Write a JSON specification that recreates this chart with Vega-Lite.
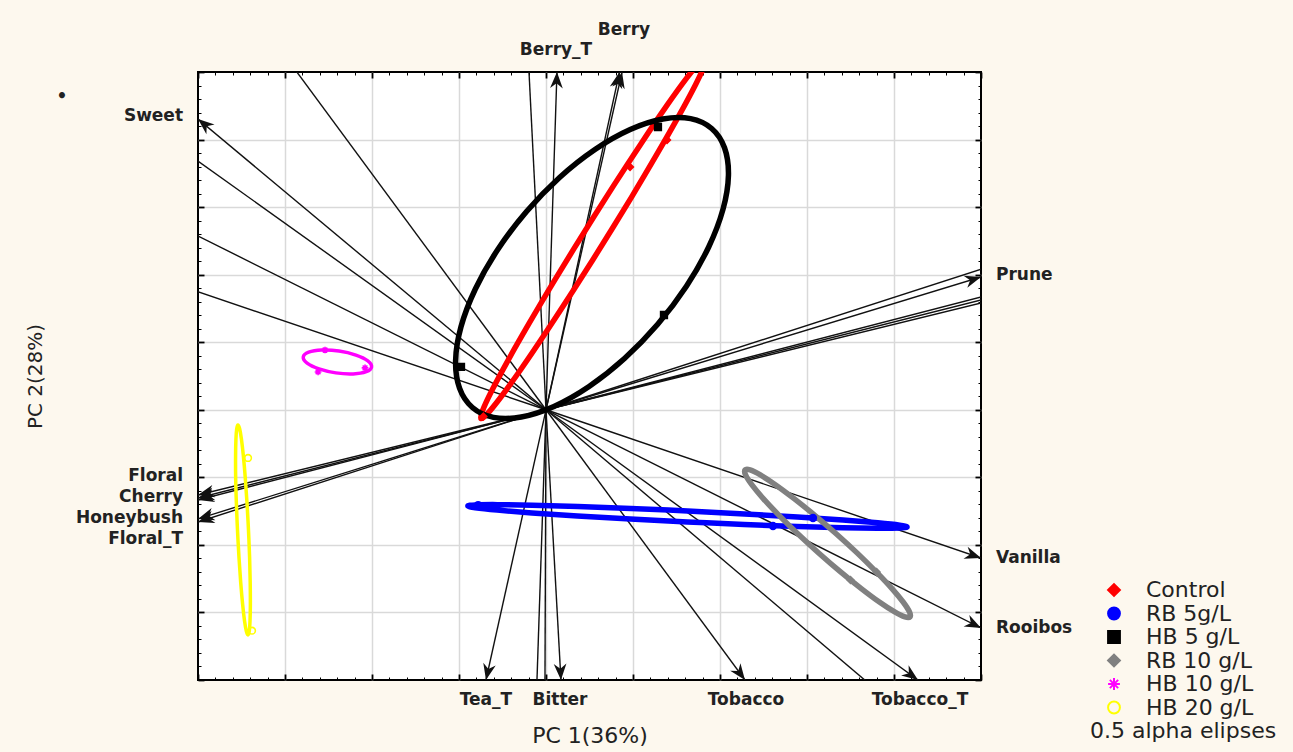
{
  "$schema": "https://vega.github.io/schema/vega-lite/v6.json",
  "width": 783,
  "height": 608,
  "autosize": "none",
  "padding": {"left": 198, "top": 72, "right": 312, "bottom": 72},
  "background": "#fdf8ee",
  "config": {
    "view": {"fill": "white", "stroke": "black", "strokeWidth": 2},
    "font": "DejaVu Sans"
  },
  "datasets": {
    "vectors": [
      {"name": "Sweet", "x": -4.0, "y": 4.304, "arrow": true},
      {"name": "Berry_T", "x": 0.126, "y": 5.0, "arrow": true},
      {"name": "Berry", "x": 0.874, "y": 5.0, "arrow": true},
      {"name": "", "x": 0.845, "y": 5.0, "arrow": true},
      {"name": "Prune", "x": 5.0, "y": 1.966, "arrow": true},
      {"name": "Floral", "x": -4.0, "y": -1.261, "arrow": true},
      {"name": "Cherry", "x": -4.0, "y": -1.306, "arrow": true},
      {"name": "", "x": -4.0, "y": -1.335, "arrow": true},
      {"name": "Honeybush", "x": -4.0, "y": -1.616, "arrow": true},
      {"name": "Floral_T", "x": -4.0, "y": -1.661, "arrow": true},
      {"name": "Tea_T", "x": -0.69, "y": -4.0, "arrow": true},
      {"name": "Bitter", "x": 0.172, "y": -4.0, "arrow": true},
      {"name": "Tobacco", "x": 2.287, "y": -4.0, "arrow": true},
      {"name": "Tobacco_T", "x": 4.276, "y": -4.0, "arrow": true},
      {"name": "Rooibos", "x": 5.0, "y": -3.23, "arrow": true},
      {"name": "Vanilla", "x": 5.0, "y": -2.194, "arrow": true},
      {"name": "", "x": -3.15, "y": 5.5, "arrow": false},
      {"name": "", "x": -4.4, "y": 4.05, "arrow": false},
      {"name": "", "x": -4.4, "y": 2.83, "arrow": false},
      {"name": "", "x": -4.4, "y": 1.92, "arrow": false},
      {"name": "", "x": -0.215, "y": 5.5, "arrow": false},
      {"name": "", "x": 5.5, "y": 2.29, "arrow": false},
      {"name": "", "x": 5.5, "y": 1.836, "arrow": false},
      {"name": "", "x": 5.5, "y": 1.788, "arrow": false},
      {"name": "", "x": 5.5, "y": 1.738, "arrow": false},
      {"name": "", "x": -0.114, "y": -4.4, "arrow": false},
      {"name": "", "x": -0.013, "y": -4.4, "arrow": false},
      {"name": "", "x": 4.03, "y": -4.4, "arrow": false}
    ],
    "ellipses": [
      {"group": "Control", "i": 0, "x": 1.839, "y": 5.216},
      {"group": "Control", "i": 1, "x": 1.823, "y": 5.103},
      {"group": "Control", "i": 2, "x": 1.72, "y": 4.815},
      {"group": "Control", "i": 3, "x": 1.536, "y": 4.372},
      {"group": "Control", "i": 4, "x": 1.285, "y": 3.805},
      {"group": "Control", "i": 5, "x": 0.985, "y": 3.152},
      {"group": "Control", "i": 6, "x": 0.653, "y": 2.457},
      {"group": "Control", "i": 7, "x": 0.315, "y": 1.768},
      {"group": "Control", "i": 8, "x": -0.008, "y": 1.132},
      {"group": "Control", "i": 9, "x": -0.292, "y": 0.592},
      {"group": "Control", "i": 10, "x": -0.52, "y": 0.185},
      {"group": "Control", "i": 11, "x": -0.675, "y": -0.061},
      {"group": "Control", "i": 12, "x": -0.747, "y": -0.13},
      {"group": "Control", "i": 13, "x": -0.731, "y": -0.017},
      {"group": "Control", "i": 14, "x": -0.628, "y": 0.271},
      {"group": "Control", "i": 15, "x": -0.444, "y": 0.714},
      {"group": "Control", "i": 16, "x": -0.193, "y": 1.281},
      {"group": "Control", "i": 17, "x": 0.107, "y": 1.934},
      {"group": "Control", "i": 18, "x": 0.439, "y": 2.629},
      {"group": "Control", "i": 19, "x": 0.777, "y": 3.318},
      {"group": "Control", "i": 20, "x": 1.1, "y": 3.954},
      {"group": "Control", "i": 21, "x": 1.384, "y": 4.494},
      {"group": "Control", "i": 22, "x": 1.612, "y": 4.901},
      {"group": "Control", "i": 23, "x": 1.767, "y": 5.147},
      {"group": "HB 5 g/L", "i": 0, "x": 1.904, "y": 4.164},
      {"group": "HB 5 g/L", "i": 1, "x": 2.052, "y": 3.878},
      {"group": "HB 5 g/L", "i": 2, "x": 2.097, "y": 3.47},
      {"group": "HB 5 g/L", "i": 3, "x": 2.035, "y": 2.97},
      {"group": "HB 5 g/L", "i": 4, "x": 1.87, "y": 2.41},
      {"group": "HB 5 g/L", "i": 5, "x": 1.614, "y": 1.829},
      {"group": "HB 5 g/L", "i": 6, "x": 1.284, "y": 1.266},
      {"group": "HB 5 g/L", "i": 7, "x": 0.902, "y": 0.759},
      {"group": "HB 5 g/L", "i": 8, "x": 0.495, "y": 0.345},
      {"group": "HB 5 g/L", "i": 9, "x": 0.091, "y": 0.05},
      {"group": "HB 5 g/L", "i": 10, "x": -0.285, "y": -0.106},
      {"group": "HB 5 g/L", "i": 11, "x": -0.604, "y": -0.112},
      {"group": "HB 5 g/L", "i": 12, "x": -0.846, "y": 0.034},
      {"group": "HB 5 g/L", "i": 13, "x": -0.994, "y": 0.32},
      {"group": "HB 5 g/L", "i": 14, "x": -1.039, "y": 0.728},
      {"group": "HB 5 g/L", "i": 15, "x": -0.977, "y": 1.228},
      {"group": "HB 5 g/L", "i": 16, "x": -0.812, "y": 1.788},
      {"group": "HB 5 g/L", "i": 17, "x": -0.556, "y": 2.369},
      {"group": "HB 5 g/L", "i": 18, "x": -0.226, "y": 2.932},
      {"group": "HB 5 g/L", "i": 19, "x": 0.156, "y": 3.439},
      {"group": "HB 5 g/L", "i": 20, "x": 0.563, "y": 3.853},
      {"group": "HB 5 g/L", "i": 21, "x": 0.968, "y": 4.148},
      {"group": "HB 5 g/L", "i": 22, "x": 1.343, "y": 4.304},
      {"group": "HB 5 g/L", "i": 23, "x": 1.662, "y": 4.31},
      {"group": "RB 5g/L", "i": 0, "x": 4.15, "y": -1.735},
      {"group": "RB 5g/L", "i": 1, "x": 4.063, "y": -1.75},
      {"group": "RB 5g/L", "i": 2, "x": 3.81, "y": -1.754},
      {"group": "RB 5g/L", "i": 3, "x": 3.408, "y": -1.746},
      {"group": "RB 5g/L", "i": 4, "x": 2.885, "y": -1.727},
      {"group": "RB 5g/L", "i": 5, "x": 2.277, "y": -1.698},
      {"group": "RB 5g/L", "i": 6, "x": 1.623, "y": -1.66},
      {"group": "RB 5g/L", "i": 7, "x": 0.97, "y": -1.617},
      {"group": "RB 5g/L", "i": 8, "x": 0.361, "y": -1.572},
      {"group": "RB 5g/L", "i": 9, "x": -0.161, "y": -1.527},
      {"group": "RB 5g/L", "i": 10, "x": -0.562, "y": -1.485},
      {"group": "RB 5g/L", "i": 11, "x": -0.813, "y": -1.45},
      {"group": "RB 5g/L", "i": 12, "x": -0.898, "y": -1.424},
      {"group": "RB 5g/L", "i": 13, "x": -0.811, "y": -1.408},
      {"group": "RB 5g/L", "i": 14, "x": -0.558, "y": -1.404},
      {"group": "RB 5g/L", "i": 15, "x": -0.156, "y": -1.412},
      {"group": "RB 5g/L", "i": 16, "x": 0.367, "y": -1.431},
      {"group": "RB 5g/L", "i": 17, "x": 0.975, "y": -1.46},
      {"group": "RB 5g/L", "i": 18, "x": 1.629, "y": -1.498},
      {"group": "RB 5g/L", "i": 19, "x": 2.282, "y": -1.541},
      {"group": "RB 5g/L", "i": 20, "x": 2.891, "y": -1.586},
      {"group": "RB 5g/L", "i": 21, "x": 3.413, "y": -1.631},
      {"group": "RB 5g/L", "i": 22, "x": 3.814, "y": -1.673},
      {"group": "RB 5g/L", "i": 23, "x": 4.065, "y": -1.708},
      {"group": "RB 10 g/L", "i": 0, "x": 4.184, "y": -3.067},
      {"group": "RB 10 g/L", "i": 1, "x": 4.126, "y": -3.067},
      {"group": "RB 10 g/L", "i": 2, "x": 4.008, "y": -2.993},
      {"group": "RB 10 g/L", "i": 3, "x": 3.836, "y": -2.85},
      {"group": "RB 10 g/L", "i": 4, "x": 3.624, "y": -2.647},
      {"group": "RB 10 g/L", "i": 5, "x": 3.386, "y": -2.4},
      {"group": "RB 10 g/L", "i": 6, "x": 3.137, "y": -2.123},
      {"group": "RB 10 g/L", "i": 7, "x": 2.894, "y": -1.836},
      {"group": "RB 10 g/L", "i": 8, "x": 2.676, "y": -1.559},
      {"group": "RB 10 g/L", "i": 9, "x": 2.495, "y": -1.311},
      {"group": "RB 10 g/L", "i": 10, "x": 2.365, "y": -1.109},
      {"group": "RB 10 g/L", "i": 11, "x": 2.294, "y": -0.965},
      {"group": "RB 10 g/L", "i": 12, "x": 2.288, "y": -0.891},
      {"group": "RB 10 g/L", "i": 13, "x": 2.346, "y": -0.891},
      {"group": "RB 10 g/L", "i": 14, "x": 2.464, "y": -0.965},
      {"group": "RB 10 g/L", "i": 15, "x": 2.636, "y": -1.108},
      {"group": "RB 10 g/L", "i": 16, "x": 2.848, "y": -1.311},
      {"group": "RB 10 g/L", "i": 17, "x": 3.086, "y": -1.558},
      {"group": "RB 10 g/L", "i": 18, "x": 3.335, "y": -1.835},
      {"group": "RB 10 g/L", "i": 19, "x": 3.578, "y": -2.122},
      {"group": "RB 10 g/L", "i": 20, "x": 3.796, "y": -2.399},
      {"group": "RB 10 g/L", "i": 21, "x": 3.977, "y": -2.647},
      {"group": "RB 10 g/L", "i": 22, "x": 4.107, "y": -2.849},
      {"group": "RB 10 g/L", "i": 23, "x": 4.178, "y": -2.993},
      {"group": "HB 10 g/L", "i": 0, "x": -2.005, "y": 0.634},
      {"group": "HB 10 g/L", "i": 1, "x": -2.066, "y": 0.564},
      {"group": "HB 10 g/L", "i": 2, "x": -2.216, "y": 0.531},
      {"group": "HB 10 g/L", "i": 3, "x": -2.415, "y": 0.546},
      {"group": "HB 10 g/L", "i": 4, "x": -2.609, "y": 0.605},
      {"group": "HB 10 g/L", "i": 5, "x": -2.746, "y": 0.69},
      {"group": "HB 10 g/L", "i": 6, "x": -2.79, "y": 0.781},
      {"group": "HB 10 g/L", "i": 7, "x": -2.728, "y": 0.852},
      {"group": "HB 10 g/L", "i": 8, "x": -2.578, "y": 0.884},
      {"group": "HB 10 g/L", "i": 9, "x": -2.379, "y": 0.869},
      {"group": "HB 10 g/L", "i": 10, "x": -2.185, "y": 0.81},
      {"group": "HB 10 g/L", "i": 11, "x": -2.048, "y": 0.725},
      {"group": "HB 20 g/L", "i": 0, "x": -3.426, "y": -3.333},
      {"group": "HB 20 g/L", "i": 1, "x": -3.411, "y": -3.279},
      {"group": "HB 20 g/L", "i": 2, "x": -3.402, "y": -3.123},
      {"group": "HB 20 g/L", "i": 3, "x": -3.398, "y": -2.875},
      {"group": "HB 20 g/L", "i": 4, "x": -3.4, "y": -2.553},
      {"group": "HB 20 g/L", "i": 5, "x": -3.407, "y": -2.178},
      {"group": "HB 20 g/L", "i": 6, "x": -3.42, "y": -1.775},
      {"group": "HB 20 g/L", "i": 7, "x": -3.437, "y": -1.373},
      {"group": "HB 20 g/L", "i": 8, "x": -3.457, "y": -0.999},
      {"group": "HB 20 g/L", "i": 9, "x": -3.479, "y": -0.677},
      {"group": "HB 20 g/L", "i": 10, "x": -3.501, "y": -0.431},
      {"group": "HB 20 g/L", "i": 11, "x": -3.522, "y": -0.277},
      {"group": "HB 20 g/L", "i": 12, "x": -3.541, "y": -0.225},
      {"group": "HB 20 g/L", "i": 13, "x": -3.555, "y": -0.279},
      {"group": "HB 20 g/L", "i": 14, "x": -3.564, "y": -0.435},
      {"group": "HB 20 g/L", "i": 15, "x": -3.568, "y": -0.683},
      {"group": "HB 20 g/L", "i": 16, "x": -3.567, "y": -1.005},
      {"group": "HB 20 g/L", "i": 17, "x": -3.559, "y": -1.38},
      {"group": "HB 20 g/L", "i": 18, "x": -3.546, "y": -1.783},
      {"group": "HB 20 g/L", "i": 19, "x": -3.529, "y": -2.185},
      {"group": "HB 20 g/L", "i": 20, "x": -3.509, "y": -2.559},
      {"group": "HB 20 g/L", "i": 21, "x": -3.487, "y": -2.881},
      {"group": "HB 20 g/L", "i": 22, "x": -3.465, "y": -3.127},
      {"group": "HB 20 g/L", "i": 23, "x": -3.444, "y": -3.281}
    ],
    "markers": [
      {"group": "Control", "x": 0.966, "y": 3.594},
      {"group": "Control", "x": 1.391, "y": 3.993},
      {"group": "Control", "x": -0.72, "y": -0.1},
      {"group": "RB 5g/L", "x": 3.069, "y": -1.602},
      {"group": "RB 5g/L", "x": 2.609, "y": -1.72},
      {"group": "RB 5g/L", "x": -0.78, "y": -1.41},
      {"group": "HB 5 g/L", "x": 1.287, "y": 4.186},
      {"group": "HB 5 g/L", "x": 1.356, "y": 1.403},
      {"group": "HB 5 g/L", "x": -0.977, "y": 0.634},
      {"group": "RB 10 g/L", "x": 3.8, "y": -2.4},
      {"group": "RB 10 g/L", "x": 3.5, "y": -2.52},
      {"group": "HB 10 g/L", "x": -2.54, "y": 0.885},
      {"group": "HB 10 g/L", "x": -2.62, "y": 0.56},
      {"group": "HB 10 g/L", "x": -2.08, "y": 0.62},
      {"group": "HB 20 g/L", "x": -3.425, "y": -0.713},
      {"group": "HB 20 g/L", "x": -3.379, "y": -3.27}
    ],
    "labels": [
      {"text": "Sweet", "x": -4.172, "y": 4.349, "pos": "left"},
      {"text": "Floral", "x": -4.172, "y": -0.98, "pos": "left"},
      {"text": "Cherry", "x": -4.172, "y": -1.291, "pos": "left"},
      {"text": "Honeybush", "x": -4.172, "y": -1.602, "pos": "left"},
      {"text": "Floral_T", "x": -4.172, "y": -1.913, "pos": "left"},
      {"text": "Prune", "x": 5.172, "y": 1.995, "pos": "right"},
      {"text": "Vanilla", "x": 5.172, "y": -2.194, "pos": "right"},
      {"text": "Rooibos", "x": 5.172, "y": -3.23, "pos": "right"},
      {"text": "Berry", "x": 0.897, "y": 5.622, "pos": "center"},
      {"text": "Berry_T", "x": 0.115, "y": 5.326, "pos": "center"},
      {"text": "Tea_T", "x": -0.69, "y": -4.295, "pos": "center"},
      {"text": "Bitter", "x": 0.161, "y": -4.295, "pos": "center"},
      {"text": "Tobacco", "x": 2.299, "y": -4.295, "pos": "center"},
      {"text": "Tobacco_T", "x": 4.299, "y": -4.295, "pos": "center"},
      {"text": "•", "x": -5.563, "y": 4.63, "pos": "center"}
    ]
  },
  "resolve": {"axis": {"x": "independent", "y": "independent"}},
  "layer": [
    {
      "data": {"name": "vectors"},
      "mark": {"type": "rule", "clip": true, "color": "#111111", "strokeWidth": 1.4},
      "encoding": {
        "x": {"field": "x", "type": "quantitative", "scale": {"domain": [-4, 5], "nice": false, "zero": false}, "axis": null},
        "y": {"field": "y", "type": "quantitative", "scale": {"domain": [-4, 5], "nice": false, "zero": false}, "axis": null},
        "x2": {"datum": 0},
        "y2": {"datum": 0}
      }
    },
    {
      "data": {"name": "ellipses"},
      "transform": [{"filter": "datum.group != 'HB 10 g/L' && datum.group != 'HB 20 g/L'"}],
      "mark": {"type": "line", "interpolate": "cardinal-closed", "clip": true, "strokeWidth": 5.5},
      "encoding": {
        "x": {"field": "x", "type": "quantitative", "scale": {"domain": [-4, 5], "nice": false, "zero": false}, "axis": null},
        "y": {"field": "y", "type": "quantitative", "scale": {"domain": [-4, 5], "nice": false, "zero": false}, "axis": null},
        "color": {"field": "group", "type": "nominal", "scale": {"range": ["#ff0000", "#ff00ff", "#ffff00", "#000000", "#808080", "#0000ff"]}, "legend": null},
        "order": {"field": "i", "type": "quantitative"}
      }
    },
    {
      "data": {"name": "ellipses"},
      "transform": [{"filter": "datum.group == 'HB 10 g/L' || datum.group == 'HB 20 g/L'"}],
      "mark": {"type": "line", "interpolate": "cardinal-closed", "clip": true, "strokeWidth": 3.5},
      "encoding": {
        "x": {"field": "x", "type": "quantitative", "scale": {"domain": [-4, 5], "nice": false, "zero": false}, "axis": null},
        "y": {"field": "y", "type": "quantitative", "scale": {"domain": [-4, 5], "nice": false, "zero": false}, "axis": null},
        "color": {"field": "group", "type": "nominal", "scale": {"range": ["#ff0000", "#ff00ff", "#ffff00", "#000000", "#808080", "#0000ff"]}, "legend": null},
        "order": {"field": "i", "type": "quantitative"}
      }
    },
    {
      "data": {"name": "vectors"},
      "transform": [
        {"filter": "datum.arrow"},
        {"calculate": "atan2(datum.x * 87, datum.y * 67.56) * 180 / PI", "as": "ang"}
      ],
      "mark": {"type": "point", "shape": "M0,0L-0.45,1.15L0,0.8L0.45,1.15Z", "filled": true, "color": "#111111", "size": 800, "opacity": 1, "clip": false},
      "encoding": {
        "x": {"field": "x", "type": "quantitative", "scale": {"domain": [-4, 5], "nice": false, "zero": false},
          "axis": {"orient": "bottom", "labels": false, "domain": false, "grid": true,
            "values": [-4,-3.8,-3.6,-3.4,-3.2,-3,-2.8,-2.6,-2.4,-2.2,-2,-1.8,-1.6,-1.4,-1.2,-1,-0.8,-0.6,-0.4,-0.2,0,0.2,0.4,0.6,0.8,1,1.2,1.4,1.6,1.8,2,2.2,2.4,2.6,2.8,3,3.2,3.4,3.6,3.8,4,4.2,4.4,4.6,4.8,5],
            "gridColor": "#d9d9d9", "gridWidth": 1.5,
            "gridOpacity": {"condition": {"test": "abs(datum.value - round(datum.value)) < 0.01 && datum.value > -3.99 && datum.value < 4.99", "value": 1}, "value": 0},
            "tickColor": "#000000",
            "tickSize": {"condition": {"test": "abs(datum.value - round(datum.value)) < 0.01", "value": -6}, "value": -3},
            "tickWidth": {"condition": {"test": "abs(datum.value - round(datum.value)) < 0.01", "value": 1.8}, "value": 1},
            "title": "PC 1(36%)", "titleFont": "DejaVu Sans", "titleFontSize": 22, "titleFontWeight": "normal", "titleColor": "#222222", "titlePadding": 45}},
        "y": {"field": "y", "type": "quantitative", "scale": {"domain": [-4, 5], "nice": false, "zero": false},
          "axis": {"orient": "left", "labels": false, "domain": false, "grid": true,
            "values": [-4,-3.8,-3.6,-3.4,-3.2,-3,-2.8,-2.6,-2.4,-2.2,-2,-1.8,-1.6,-1.4,-1.2,-1,-0.8,-0.6,-0.4,-0.2,0,0.2,0.4,0.6,0.8,1,1.2,1.4,1.6,1.8,2,2.2,2.4,2.6,2.8,3,3.2,3.4,3.6,3.8,4,4.2,4.4,4.6,4.8,5],
            "gridColor": "#d9d9d9", "gridWidth": 1.5,
            "gridOpacity": {"condition": {"test": "abs(datum.value - round(datum.value)) < 0.01 && datum.value > -3.99 && datum.value < 4.99", "value": 1}, "value": 0},
            "tickColor": "#000000",
            "tickSize": {"condition": {"test": "abs(datum.value - round(datum.value)) < 0.01", "value": -6}, "value": -3},
            "tickWidth": {"condition": {"test": "abs(datum.value - round(datum.value)) < 0.01", "value": 1.8}, "value": 1},
            "title": "PC 2(28%)", "titleFont": "DejaVu Sans", "titleFontSize": 20, "titleFontWeight": "normal", "titleColor": "#222222", "titlePadding": 152}},
        "angle": {"field": "ang", "type": "quantitative", "scale": null}
      }
    },
    {
      "data": {"name": "markers"},
      "mark": {"type": "point", "size": 45, "strokeWidth": 1.6, "opacity": 1},
      "encoding": {
        "x": {"field": "x", "type": "quantitative", "scale": {"domain": [-4, 5], "nice": false, "zero": false},
          "axis": {"orient": "top", "labels": false, "domain": false, "grid": false, "title": null,
            "values": [-4,-3.8,-3.6,-3.4,-3.2,-3,-2.8,-2.6,-2.4,-2.2,-2,-1.8,-1.6,-1.4,-1.2,-1,-0.8,-0.6,-0.4,-0.2,0,0.2,0.4,0.6,0.8,1,1.2,1.4,1.6,1.8,2,2.2,2.4,2.6,2.8,3,3.2,3.4,3.6,3.8,4,4.2,4.4,4.6,4.8,5],
            "tickColor": "#000000",
            "tickSize": {"condition": {"test": "abs(datum.value - round(datum.value)) < 0.01", "value": -6}, "value": -3},
            "tickWidth": {"condition": {"test": "abs(datum.value - round(datum.value)) < 0.01", "value": 1.8}, "value": 1}}},
        "y": {"field": "y", "type": "quantitative", "scale": {"domain": [-4, 5], "nice": false, "zero": false},
          "axis": {"orient": "right", "labels": false, "domain": false, "grid": false, "title": null,
            "values": [-4,-3.8,-3.6,-3.4,-3.2,-3,-2.8,-2.6,-2.4,-2.2,-2,-1.8,-1.6,-1.4,-1.2,-1,-0.8,-0.6,-0.4,-0.2,0,0.2,0.4,0.6,0.8,1,1.2,1.4,1.6,1.8,2,2.2,2.4,2.6,2.8,3,3.2,3.4,3.6,3.8,4,4.2,4.4,4.6,4.8,5],
            "tickColor": "#000000",
            "tickSize": {"condition": {"test": "abs(datum.value - round(datum.value)) < 0.01", "value": -6}, "value": -3},
            "tickWidth": {"condition": {"test": "abs(datum.value - round(datum.value)) < 0.01", "value": 1.8}, "value": 1}}},
        "fill": {"field": "group", "type": "nominal",
          "scale": {"domain": ["Control", "RB 5g/L", "HB 5 g/L", "RB 10 g/L", "HB 10 g/L", "HB 20 g/L"], "range": ["#ff0000", "#0000ff", "#000000", "#808080", "#ff00ff", "transparent"]},
          "legend": {"orient": "none", "legendX": 892, "legendY": 507, "title": "0.5 alpha elipses", "titleOrient": "bottom", "titleAnchor": "start", "titleLimit": 400, "titleFont": "DejaVu Sans", "titleFontSize": 22, "titleFontWeight": "normal", "titleColor": "#222222", "titlePadding": 2, "labelFont": "DejaVu Sans", "labelFontSize": 22, "labelColor": "#222222", "labelOffset": 21, "labelLimit": 300, "symbolSize": 140, "symbolStrokeWidth": 2, "symbolOffset": 13, "rowPadding": 1.5, "padding": 0}},
        "stroke": {"field": "group", "type": "nominal",
          "scale": {"domain": ["Control", "RB 5g/L", "HB 5 g/L", "RB 10 g/L", "HB 10 g/L", "HB 20 g/L"], "range": ["#ff0000", "#0000ff", "#000000", "#808080", "#ff00ff", "#ffff00"]},
          "legend": {"orient": "none", "legendX": 892, "legendY": 507, "title": "0.5 alpha elipses", "titleOrient": "bottom", "titleAnchor": "start", "titleLimit": 400, "titleFont": "DejaVu Sans", "titleFontSize": 22, "titleFontWeight": "normal", "titleColor": "#222222", "titlePadding": 2, "labelFont": "DejaVu Sans", "labelFontSize": 22, "labelColor": "#222222", "labelOffset": 21, "labelLimit": 300, "symbolSize": 140, "symbolStrokeWidth": 2, "symbolOffset": 13, "rowPadding": 1.5, "padding": 0}},
        "shape": {"field": "group", "type": "nominal",
          "scale": {"domain": ["Control", "RB 5g/L", "HB 5 g/L", "RB 10 g/L", "HB 10 g/L", "HB 20 g/L"], "range": ["diamond", "circle", "square", "diamond", "M-1,0L1,0M0,-1L0,1M-0.7,-0.7L0.7,0.7M-0.7,0.7L0.7,-0.7", "circle"]},
          "legend": {"orient": "none", "legendX": 892, "legendY": 507, "title": "0.5 alpha elipses", "titleOrient": "bottom", "titleAnchor": "start", "titleLimit": 400, "titleFont": "DejaVu Sans", "titleFontSize": 22, "titleFontWeight": "normal", "titleColor": "#222222", "titlePadding": 2, "labelFont": "DejaVu Sans", "labelFontSize": 22, "labelColor": "#222222", "labelOffset": 21, "labelLimit": 300, "symbolSize": 140, "symbolStrokeWidth": 2, "symbolOffset": 13, "rowPadding": 1.5, "padding": 0}}
      }
    },
    {
      "data": {"name": "labels"},
      "transform": [{"filter": "datum.pos == 'left'"}],
      "mark": {"type": "text", "align": "right", "baseline": "middle", "font": "DejaVu Sans", "fontWeight": "bold", "fontSize": 17, "color": "#222222"},
      "encoding": {
        "x": {"field": "x", "type": "quantitative", "scale": {"domain": [-4, 5], "nice": false, "zero": false}, "axis": null},
        "y": {"field": "y", "type": "quantitative", "scale": {"domain": [-4, 5], "nice": false, "zero": false}, "axis": null},
        "text": {"field": "text"}
      }
    },
    {
      "data": {"name": "labels"},
      "transform": [{"filter": "datum.pos == 'right'"}],
      "mark": {"type": "text", "align": "left", "baseline": "middle", "font": "DejaVu Sans", "fontWeight": "bold", "fontSize": 17, "color": "#222222"},
      "encoding": {
        "x": {"field": "x", "type": "quantitative", "scale": {"domain": [-4, 5], "nice": false, "zero": false}, "axis": null},
        "y": {"field": "y", "type": "quantitative", "scale": {"domain": [-4, 5], "nice": false, "zero": false}, "axis": null},
        "text": {"field": "text"}
      }
    },
    {
      "data": {"name": "labels"},
      "transform": [{"filter": "datum.pos == 'center'"}],
      "mark": {"type": "text", "align": "center", "baseline": "middle", "font": "DejaVu Sans", "fontWeight": "bold", "fontSize": 17, "color": "#222222"},
      "encoding": {
        "x": {"field": "x", "type": "quantitative", "scale": {"domain": [-4, 5], "nice": false, "zero": false}, "axis": null},
        "y": {"field": "y", "type": "quantitative", "scale": {"domain": [-4, 5], "nice": false, "zero": false}, "axis": null},
        "text": {"field": "text"}
      }
    }
  ]
}
